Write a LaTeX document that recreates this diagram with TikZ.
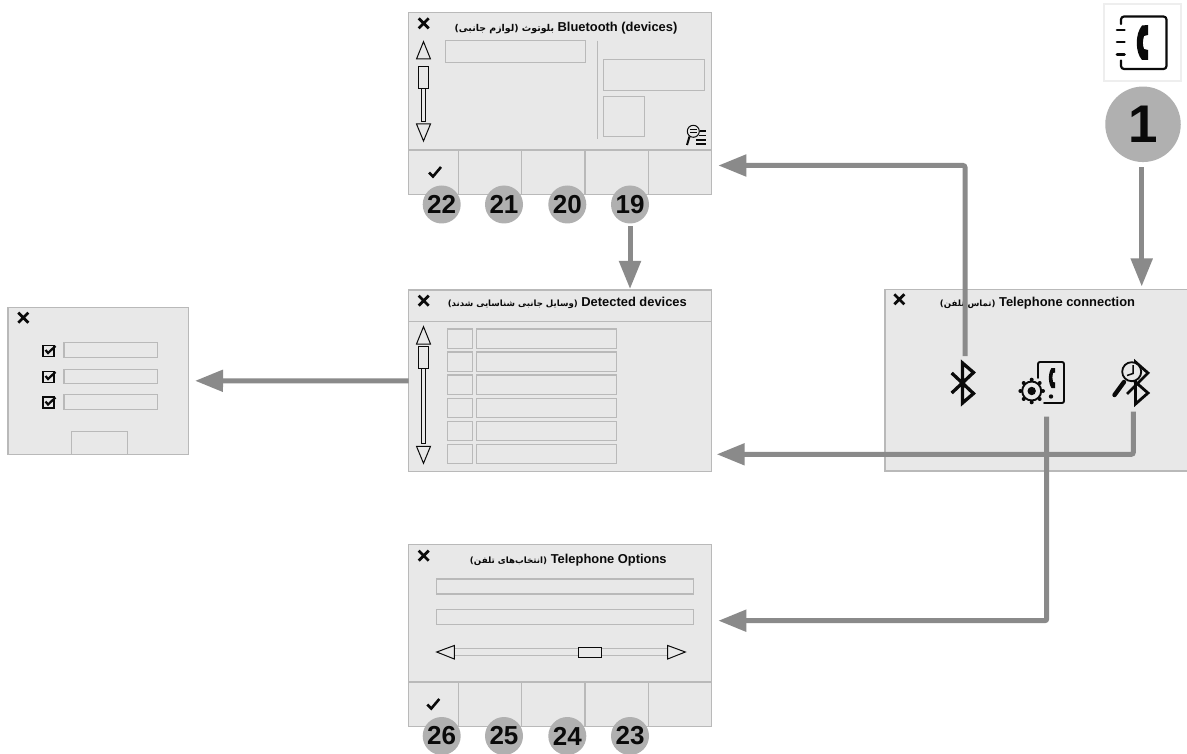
\documentclass[tikz,border=0pt]{standalone}
\usepackage{fontspec}
\setmainfont{Liberation Sans}
\newfontfamily\arfont[Script=Arabic]{DejaVu Sans}
\TeXXeTstate=1
\usetikzlibrary{arrows.meta}
\definecolor{winfill}{HTML}{E8E8E8}
\definecolor{winline}{HTML}{B9B9B9}
\definecolor{arrowgray}{HTML}{8A8A8A}
\definecolor{badgegray}{HTML}{B0B0B0}
\definecolor{iconline}{HTML}{EEEEEE}
\definecolor{ink}{HTML}{0A0A0A}
\tikzset{
  uibox/.style={draw=winline,fill=winfill,line width=1.2pt,inner sep=0pt,outer sep=0pt},
  fieldbox/.style={uibox,line width=1.3pt},
  blackbox/.style={draw=ink,fill=winfill,line width=1pt,inner sep=0pt,outer sep=0pt},
  ghost/.style={inner sep=0pt,outer sep=0pt},
  divider/.style={draw=winline,line width=1.2pt},
  flow/.style={draw=arrowgray,line width=5pt,rounded corners=2pt,-{Triangle[length=28pt,width=21pt]}},
  wintitle/.style={anchor=base,inner sep=0pt,font=\bfseries\fontsize{12.9}{13}\selectfont,text=ink},
  badge/.style={circle,fill=badgegray,minimum size=38pt,inner sep=0pt,outer sep=0pt,text=ink,font=\bfseries\fontsize{26}{26}\selectfont},
  tick/.style={draw=ink,line width=1pt,line join=miter,fill=winfill},
  xmark/.style={draw=ink,line width=2.8pt},
  chk/.style={draw=ink,line width=2.6pt,line join=miter},
  icon/.style={draw=ink,line width=1.8pt,line cap=round,line join=round},
}
\newcommand{\uirect}[6][uibox]{%
  \pgfmathsetmacro\rw{#5-#3}\pgfmathsetmacro\rh{#6-#4}%
  \pgfmathsetmacro\rx{(#5+#3)/2}\pgfmathsetmacro\ry{(#6+#4)/2}%
  \node[#1,minimum width=\rw pt,minimum height=\rh pt] (#2) at (\rx,\ry) {};}
\newcommand{\closex}[2]{\draw[xmark] (#1-5,#2-5) -- (#1+5,#2+5) (#1-5,#2+5) -- (#1+5,#2-5);}
\newcommand{\okmark}[2]{\draw[chk] (#1-6,#2) -- (#1-2,#2+4) -- (#1+6,#2-5.5);}
\newcommand{\tickbox}[2]{\draw[draw=ink,line width=1.5pt] (#1,#2) rectangle (#1+11,#2+11);
  \draw[draw=ink,line width=2.2pt] (#1+2.5,#2+4.5) -- (#1+5,#2+7.5) -- (#1+12.5,#2+0.5);}
\newcommand{\vscroll}[6]{% up apex y, up base y, thumb top, thumb bottom, track bottom, down base; down apex = base+17
  \draw[tick] (423.5,#1) -- (430.5,#2) -- (416.5,#2) -- cycle;
  \draw[tick] (421.8,#4) rectangle (425,#5);
  \draw[tick] (418.8,#3) rectangle (428,#4);
  \draw[tick] (423.5,#6+17) -- (430.5,#6) -- (416.5,#6) -- cycle;}
\newcommand{\softbar}[2]{\draw[divider] (408.5,#2) -- (711.5,#2);
  \foreach \dx in {458.5,521.7,585,648.5} \draw[divider] (\dx,#2) -- (\dx,#1);}
\begin{document}
\begin{tikzpicture}[x=1pt,y=-1pt]
\clip (0,0) rectangle (1187,754);
\fill[white] (0,0) rectangle (1187,754);

% Bluetooth window
\uirect{btwin}{408.5}{12.5}{711.5}{194.5}
\softbar{194.5}{150}
\node[wintitle] (bttitle) at (566,31.7) {{\arfont\fontsize{9.4}{10}\selectfont\beginR بلوتوث (لوازم جانبی)\endR} Bluetooth (devices)};
\closex{423.7}{23.3}
\vscroll{41.7}{59}{66.3}{89}{121.7}{124}
\uirect[fieldbox]{btfield}{445.3}{40.7}{585.7}{62.7}
\draw[divider] (597.3,40.7) -- (597.3,139.3);
\uirect[fieldbox]{btinfo}{603.3}{59.3}{704.7}{90.7}
\uirect[fieldbox]{btpic}{603.3}{96.3}{644.7}{136.7}
\draw[draw=ink,line width=1pt] (693.3,131.3) circle (6);
\draw[draw=ink,line width=1pt] (690,130) -- (697,130) (690,133) -- (697,133);
\draw[draw=ink,line width=2pt] (689.5,136.5) -- (687,145);
\draw[draw=ink,line width=1.2pt] (700,131) -- (706,131) (699,135.5) -- (706,135.5) (696,140) -- (706,140) (696,144) -- (706,144);
\okmark{435}{172.5}
\node[badge] (n22) at (441.7,204.5) {22};
\node[badge] (n21) at (504,204.5) {21};
\node[badge] (n20) at (567.3,204.5) {20};
\node[badge] (n19) at (630,204.5) {19};

% Detected devices window
\uirect{detwin}{408.5}{290}{711.5}{471.7}
\draw[divider] (408.5,321.3) -- (711.5,321.3);
\node[wintitle] (dettitle) at (567.3,306) {{\arfont\fontsize{8.6}{10}\selectfont\beginR (وسایل جانبی شناسایی شدند)\endR} Detected devices};
\closex{423.7}{300.7}
\vscroll{326.7}{344}{346.3}{368.3}{443.3}{446.3}
\foreach \i/\ya/\yb in {1/329/348.3,2/352/371.3,3/375/394.3,4/398.3/417.3,5/421.3/440.7,6/444.3/463.7}{
  \uirect[fieldbox]{dets\i}{447.3}{\ya}{472.7}{\yb}
  \uirect[fieldbox]{detb\i}{476.3}{\ya}{616.7}{\yb}
}

% Left pairing window
\uirect{pairwin}{8}{307.3}{188.7}{454.3}
\closex{23.3}{317.7}
\uirect[fieldbox]{pair1}{64}{342.7}{157.3}{357.3}
\uirect[fieldbox]{pair2}{64}{369.3}{157.3}{383.7}
\uirect[fieldbox]{pair3}{64}{394.7}{157.3}{409.3}
\tickbox{43}{345.5}
\tickbox{43}{371.5}
\tickbox{43}{397}
\uirect[fieldbox]{pairbtn}{71.3}{431.7}{127.3}{454.3}

% Telephone options window
\uirect{optwin}{408.5}{544.7}{711.5}{726.7}
\softbar{726.7}{682}
\node[wintitle] (opttitle) at (568.3,563.3) {{\arfont\fontsize{8.7}{10}\selectfont\beginR (انتخاب‌های تلفن)\endR} Telephone Options};
\closex{423.7}{555.7}
\uirect[fieldbox]{opt1}{436.3}{579}{693.7}{594}
\uirect[fieldbox]{opt2}{436.3}{609.3}{693.7}{624.3}
\uirect[fieldbox]{opttrack}{454.3}{648.3}{667.7}{655.7}
\draw[tick] (436.7,652) -- (454.3,645.5) -- (454.3,659) -- cycle;
\draw[tick] (685.3,652) -- (667.7,645.5) -- (667.7,659) -- cycle;
\uirect[blackbox]{optthumb}{578.7}{647}{601}{657.3}
\okmark{433.3}{704.5}
\node[badge] (n26) at (441.7,736) {26};
\node[badge] (n25) at (504,736) {25};
\node[badge] (n24) at (567.3,736) {24};
\node[badge] (n23) at (630,736) {23};

% Telephone connection window
\uirect{telwin}{885}{289.5}{1192}{471}
\node[wintitle] (teltitle) at (1037.5,306) {{\arfont\fontsize{8.6}{10}\selectfont\beginR (تماس تلفن)\endR} Telephone connection};
\closex{899.3}{299.3}

% Phone book icon
\uirect[draw=iconline,fill=white,line width=2pt]{bookicon}{1104}{4.5}{1181}{81}
\draw[icon,line width=2.2pt,rounded corners=3pt] (1121,24) -- (1121,16.5) -- (1166.5,16.5) -- (1166.5,69) -- (1121,69) -- (1121,60.5);
\draw[icon,line width=2.6pt] (1117,30) -- (1124.5,30) (1117,42) -- (1124.5,42) (1117,54.5) -- (1124.5,54.5);
\fill[ink] (1142,25.5) -- (1148,25) -- (1148,35) -- (1144,36) .. controls (1142.5,42) and (1142.5,44) .. (1144,49) -- (1148,50) -- (1148,60) -- (1142,60) .. controls (1135,52) and (1135,34) .. (1142,25.5) -- cycle;
\node[badge,minimum size=75.5pt,font=\bfseries\fontsize{53}{53}\selectfont] (n1) at (1143,124.3) {1};

% Window icons (invisible nodes that carry the connector ends)
\node[ghost,minimum width=24pt,minimum height=44pt] (bticon) at (965,382) {};
\node[ghost,minimum width=30pt,minimum height=44pt] (gearicon) at (1046.7,383) {};
\node[ghost,minimum width=36pt,minimum height=44pt] (scanicon) at (1133.3,383) {};
\draw[draw=ink,line width=3.3pt,line join=miter] (951.7,373) -- (973.5,393.5) -- (962.5,403) -- (962.5,363) -- (973.5,372.5) -- (951.7,393);
% gear + phone
\foreach \a in {0,45,...,315} \fill[ink] (1031.7,391)++(\a:11.3) circle (2);
\draw[draw=ink,line width=1.9pt,fill=winfill] (1031.7,391) circle (9.5);
\fill[ink] (1031.7,391) circle (4.2);
\draw[icon,line width=1.9pt,rounded corners=2pt] (1038,378) -- (1038,362) -- (1064,362) -- (1064,403) -- (1044,403);
\fill[ink] (1051.5,368) -- (1055,368) -- (1055,372.5) -- (1053,373) .. controls (1052.2,377) and (1052.2,379) .. (1053,382) -- (1055,382.5) -- (1055,388) -- (1051.5,388) .. controls (1048,383) and (1048,373) .. (1051.5,368) -- cycle;
\fill[ink] (1051,396.5) circle (2.2);
% magnifier + bluetooth
\draw[draw=ink,line width=2.8pt,line join=miter] (1127,394) -- (1148,373) -- (1135.5,362) -- (1135.5,404) -- (1148,393) -- (1124,372);
\draw[draw=ink,line width=1.8pt,fill=winfill] (1131.7,371.7) circle (9.5);
\draw[draw=ink,line width=1.5pt] (1133,365) -- (1133,373.5) -- (1127,375.5);
\draw[draw=ink,line width=4.4pt,line cap=round] (1124,382) -- (1114.5,395);

% Connectors
\coordinate (btin) at (718.3,165.5);
\coordinate (detin) at (716.7,454.3);
\coordinate (optin) at (718.3,620.7);
\draw[flow,shorten <=5pt,shorten >=3pt] ([xshift=-1.3pt]n1.south) -- ([xshift=-1.3pt]n1.south |- telwin.north);
\draw[flow] ([yshift=4pt]bticon.north) |- (btin);
\draw[flow] ([yshift=-6.7pt]scanicon.south) |- (detin);
\draw[flow] ([yshift=-11.7pt]gearicon.south) |- (optin);
\draw[flow,shorten <=3pt,shorten >=1pt] (n19.south) -- (n19.south |- detwin.north);
\draw[flow,shorten >=6.3pt] (detwin.west) -- (pairwin.east);
\end{tikzpicture}
\end{document}
